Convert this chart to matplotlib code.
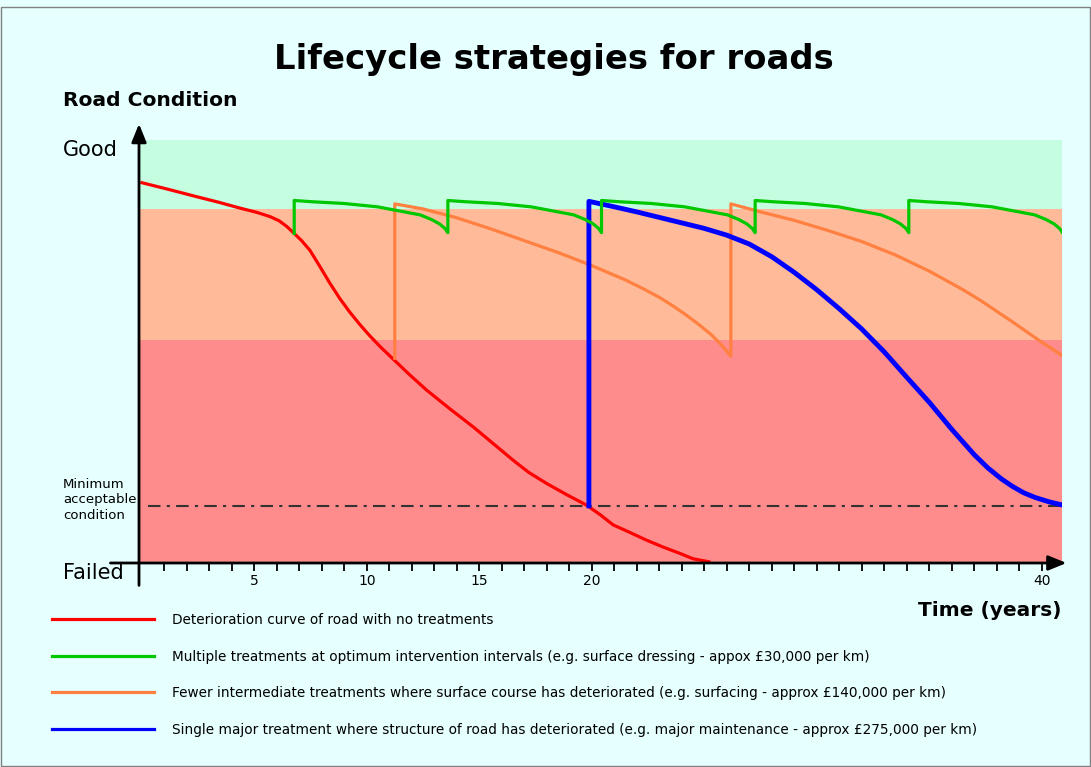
import matplotlib
matplotlib.use("Agg")
import matplotlib.pyplot as plt
from matplotlib.lines import Line2D
from matplotlib.patches import Rectangle

# ---------------- DATA ----------------
# condition scale: 0 = Failed, 100 = Good
band_edges = [0, 52.7, 83.7, 100]
band_colors = ["#FF8C8C", "#FFBB99", "#C4FDE0"]
min_acceptable = 13.5

red_years = [0, 1.2, 2.43, 3.4, 4.36, 5.1, 5.69, 6.1, 6.43, 6.77, 7.1, 7.47, 7.91,
             8.36, 8.8, 9.24, 9.7, 10.13, 10.6, 11.17, 11.9, 12.65, 13.7, 14.72, 15.6,
             16.5, 17.2, 17.99, 18.9, 19.76, 20.4, 20.95, 21.7, 22.43, 23.2, 23.9,
             24.5, 25.2]
red_cond = [89.9, 88.3, 86.6, 85.3, 83.9, 82.9, 81.9, 80.9, 79.6, 77.9, 76.2, 73.9, 70.1,
            66.1, 62.5, 59.3, 56.3, 53.7, 51.1, 48.2, 44.5, 40.9, 36.4, 32.2, 28.3,
            24.3, 21.4, 18.8, 16.1, 13.7, 11.3, 9.0, 7.2, 5.4, 3.7, 2.3,
            1.0, 0.3]

green_years = [6.77,
               6.77, 7.57, 8.97, 10.47, 11.67, 12.37, 12.87, 13.22, 13.47, 13.60,
               13.60, 14.40, 15.80, 17.30, 18.50, 19.20, 19.70, 20.05, 20.30, 20.43,
               20.43, 21.23, 22.63, 24.13, 25.33, 26.03, 26.53, 26.88, 27.13, 27.26,
               27.26, 28.06, 29.46, 30.96, 32.16, 32.86, 33.36, 33.71, 33.96, 34.09,
               34.09, 34.89, 36.29, 37.79, 38.99, 39.69, 40.19, 40.54, 40.79, 40.92]
green_cond = [77.9,
              85.7, 85.4, 85.0, 84.2, 83.0, 82.3, 81.2, 80.2, 79.1, 78.1,
              85.7, 85.4, 85.0, 84.2, 83.0, 82.3, 81.2, 80.2, 79.1, 78.1,
              85.7, 85.4, 85.0, 84.2, 83.0, 82.3, 81.2, 80.2, 79.1, 78.1,
              85.7, 85.4, 85.0, 84.2, 83.0, 82.3, 81.2, 80.2, 79.1, 78.1,
              85.7, 85.4, 85.0, 84.2, 83.0, 82.3, 81.2, 80.2, 79.1, 78.1]

orange_years = [11.24, 11.24, 12.5, 14.0, 15.5, 17.0, 18.5, 20.0, 21.5, 22.3, 23.0,
                23.6, 24.2, 24.8, 25.3, 25.7, 26.18,
                26.18, 27.5, 29.0, 30.5, 32.0, 33.5, 35.0, 36.5, 37.3, 38.0, 38.7,
                39.4, 40.0, 40.5, 40.92]
orange_cond = [48.4, 84.9, 83.7, 81.6, 79.0, 76.2, 73.4, 70.3, 66.9, 64.8, 62.8,
               60.8, 58.6, 56.2, 54.0, 51.9, 48.9,
               84.9, 83.0, 81.0, 78.6, 76.0, 72.8, 69.0, 64.6, 62.0, 59.5, 57.0,
               54.4, 52.2, 50.5, 49.0]

blue_years = [19.87, 19.87, 21.0, 22.0, 23.0, 24.0, 25.0, 26.0, 27.0, 28.0, 29.0,
              30.0, 31.0, 32.0, 33.0, 34.0, 35.0, 36.0, 37.0, 37.6, 38.2, 38.7,
              39.2, 39.7, 40.3, 40.92]
blue_cond = [13.5, 85.5, 84.2, 83.0, 81.7, 80.4, 79.1, 77.5, 75.4, 72.4, 68.7,
             64.6, 60.1, 55.3, 49.9, 43.9, 38.0, 31.6, 25.6, 22.5, 19.9, 18.1,
             16.6, 15.5, 14.5, 13.7]

major_ticks = [5, 10, 15, 20, 40]
minor_ticks = list(range(1, 41))

labels = [
    "Deterioration curve of road with no treatments",
    "Multiple treatments at optimum intervention intervals (e.g. surface dressing - appox \u00a330,000 per km)",
    "Fewer intermediate treatments where surface course has deteriorated (e.g. surfacing - approx \u00a3140,000 per km)",
    "Single major treatment where structure of road has deteriorated (e.g. major maintenance - approx \u00a3275,000 per km)",
]
line_colors = ["#FF0000", "#00C800", "#FF8040", "#0000FF"]

# ---------------- FIGURE ----------------
W, H = 1091, 767
bg = "#E6FFFF"
fig = plt.figure(figsize=(W / 100, H / 100), dpi=100, facecolor=bg)
plt.rcParams["font.family"] = ["DejaVu Sans"]

ax = fig.add_axes([139 / W, (H - 563) / H, 923 / W, 423 / H])
ax.set_facecolor(bg)
ax.set_xlim(-0.13, 40.9)
ax.set_ylim(0, 100)
for s in ax.spines.values():
    s.set_visible(False)

# condition bands
for lo, hi, c in zip(band_edges[:-1], band_edges[1:], band_colors):
    ax.axhspan(lo, hi, color=c, lw=0, zorder=0)

ax.axhline(min_acceptable, xmin=0.01, color="#333333", lw=1.5,
           dashes=(6, 3, 1.5, 3), zorder=2)

ax.plot(red_years, red_cond, color=line_colors[0], lw=2.3, zorder=3)
ax.plot(green_years, green_cond, color=line_colors[1], lw=2.3, zorder=4)
ax.plot(orange_years, orange_cond, color=line_colors[2], lw=2.3, zorder=3)
ax.plot(blue_years, blue_cond, color=line_colors[3], lw=3.5, zorder=3)

# axes with arrows
ax.annotate("", xy=(-0.13, 103.8), xytext=(-0.13, -5.3), annotation_clip=False,
            arrowprops=dict(arrowstyle="-|>,head_length=1.1,head_width=0.45",
                            color="black", lw=2, shrinkA=0, shrinkB=0))
ax.annotate("", xy=(41.1, 0), xytext=(-1.4, 0), annotation_clip=False,
            arrowprops=dict(arrowstyle="-|>,head_length=1.1,head_width=0.45",
                            color="black", lw=2, shrinkA=0, shrinkB=0))

ax.set_xticks(major_ticks)
ax.set_xticks([t for t in minor_ticks if t not in major_ticks], minor=True)
ax.set_yticks([])
ax.tick_params(axis="x", which="both", direction="out", length=6, width=1.3,
               color="black", labelsize=10, pad=2)

# text
fig.text(554 / W, 1 - 60 / H, "Lifecycle strategies for roads", ha="center", va="center",
         fontsize=24.4, fontweight="bold")
fig.text(63 / W, 1 - 101 / H, "Road Condition", ha="left", va="center",
         fontsize=14.6, fontweight="bold")
fig.text(63 / W, 1 - 150 / H, "Good", ha="left", va="center", fontsize=15)
fig.text(63 / W, 1 - 573 / H, "Failed", ha="left", va="center", fontsize=15)
fig.text(63 / W, 1 - 500 / H, "Minimum\nacceptable\ncondition", ha="left", va="center",
         fontsize=9.5, linespacing=1.25)
fig.text(1062 / W, 1 - 611 / H, "Time (years)", ha="right", va="center",
         fontsize=14.5, fontweight="bold")

handles = [Line2D([], [], color=c, lw=2.3) for c in line_colors]
fig.legend(handles, labels, loc="upper left", bbox_to_anchor=(52 / W, 1 - 613 / H),
           frameon=False, fontsize=9.8, handlelength=7.5, handletextpad=1.3,
           labelspacing=1.66, borderpad=0, borderaxespad=0)

fig.add_artist(Rectangle((1 / W, 1 / H), (W - 2) / W, (H - 8) / H, transform=fig.transFigure,
                         fill=False, edgecolor="#808080", lw=1))

fig.savefig("out.png", dpi=100, facecolor=bg)
